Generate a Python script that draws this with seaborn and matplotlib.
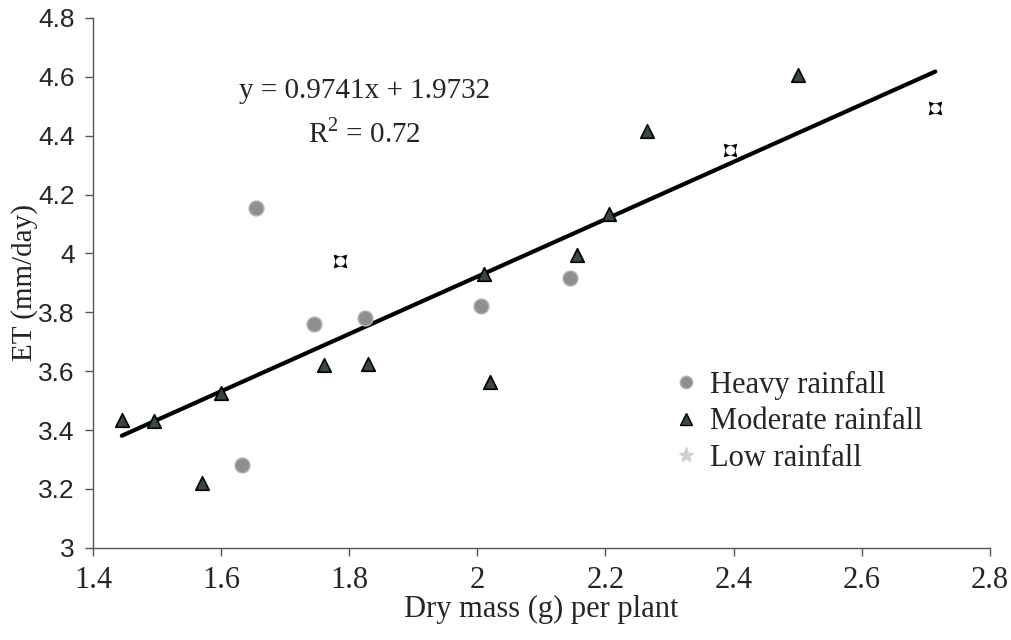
import numpy as np
import pandas as pd
import matplotlib
matplotlib.use("Agg")
import matplotlib.pyplot as plt
import seaborn as sns
from matplotlib.lines import Line2D

heavy_x = [1.633, 1.655, 1.745, 1.825, 2.005, 2.145]
heavy_y = [3.28, 4.155, 3.76, 3.78, 3.82, 3.915]
moderate_x = [1.445, 1.495, 1.570, 1.600, 1.760, 1.830, 2.010, 2.020, 2.155, 2.205, 2.265, 2.500]
moderate_y = [3.435, 3.43, 3.22, 3.525, 3.62, 3.625, 3.93, 3.565, 3.995, 4.135, 4.415, 4.605]
low_x = [1.785, 2.395, 2.715]
low_y = [3.975, 4.35, 4.495]
slope, intercept, r2 = 0.9741, 1.9732, 0.72
x_ticks = [1.4, 1.6, 1.8, 2.0, 2.2, 2.4, 2.6, 2.8]
y_ticks = [3.0, 3.2, 3.4, 3.6, 3.8, 4.0, 4.2, 4.4, 4.6, 4.8]
tick_labels_x = ["1.4", "1.6", "1.8", "2", "2.2", "2.4", "2.6", "2.8"]
tick_labels_y = ["3", "3.2", "3.4", "3.6", "3.8", "4", "4.2", "4.4", "4.6", "4.8"]

df = pd.DataFrame({
    "x": heavy_x + moderate_x + low_x,
    "y": heavy_y + moderate_y + low_y,
    "group": ["Heavy rainfall"] * len(heavy_x) + ["Moderate rainfall"] * len(moderate_x)
             + ["Low rainfall"] * len(low_x),
})

sns.set_style("white")
SERIF = ["Liberation Serif", "DejaVu Serif"]
plt.rcParams["font.family"] = SERIF
plt.rcParams["mathtext.fontset"] = "custom"
plt.rcParams["mathtext.rm"] = "Liberation Serif"

FS = 22
fig = plt.figure(figsize=(10.11, 6.4), dpi=100)
ax = fig.add_axes([0.092, 0.144, 0.887, 0.828])

# regression line
xs = np.array([df["x"].min(), df["x"].max()])
line_df = pd.DataFrame({"x": xs, "y": slope * xs + intercept})
sns.lineplot(data=line_df, x="x", y="y", ax=ax, color="black", linewidth=3, zorder=2)

sns.scatterplot(data=df[df.group == "Heavy rainfall"], x="x", y="y", ax=ax,
                marker="o", s=115, color="#8f8f8f", edgecolor="#b5b5b5", linewidth=1, zorder=3)
sns.scatterplot(data=df[df.group == "Moderate rainfall"], x="x", y="y", ax=ax,
                marker="^", s=95, color="#3a4745", edgecolor="black", linewidth=1.2, zorder=4)
sns.scatterplot(data=df[df.group == "Low rainfall"], x="x", y="y", ax=ax,
                marker=(4, 1, 45), s=170, color="black", edgecolor="black", linewidth=0.5, zorder=4)
sns.scatterplot(data=df[df.group == "Low rainfall"], x="x", y="y", ax=ax,
                marker="o", s=45, color="white", edgecolor="white", linewidth=0, zorder=5)

ax.set_xlim(1.4, 2.8)
ax.set_ylim(3.0, 4.8)
ax.set_xticks(x_ticks)
ax.set_xticklabels(tick_labels_x)
ax.set_yticks(y_ticks)
ax.set_yticklabels(tick_labels_y)
ax.tick_params(axis="both", direction="out", length=6, width=1, color="#555555",
               pad=7, bottom=True, left=True)
ax.tick_params(axis="x", labelsize=FS, labelfontfamily="Liberation Serif")
ax.tick_params(axis="y", labelsize=19, labelfontfamily="Liberation Sans")
for side in ["top", "right"]:
    ax.spines[side].set_visible(False)
for side in ["left", "bottom"]:
    ax.spines[side].set_color("#555555")
    ax.spines[side].set_linewidth(1)
ax.set_xlabel("Dry mass (g) per plant", fontsize=FS, labelpad=0, family=SERIF)
ax.set_ylabel("ET (mm/day)", fontsize=21, family=SERIF)
ax.yaxis.set_label_coords(-0.061, 0.5)

ax.text(0.303, 0.862, f"y = {slope}x + {intercept}", transform=ax.transAxes,
        fontsize=21, ha="center", va="center", family=SERIF)
ax.text(0.303, 0.783, r"R$^{2}$ = " + f"{r2}", transform=ax.transAxes,
        fontsize=21, ha="center", va="center", family=SERIF)

handles = [
    Line2D([], [], marker="o", linestyle="", markersize=9, markerfacecolor="#8f8f8f",
           markeredgecolor="#b5b5b5"),
    Line2D([], [], marker="^", linestyle="", markersize=9, markerfacecolor="#3a4745",
           markeredgecolor="black"),
    Line2D([], [], marker="*", linestyle="", markersize=11, markerfacecolor="#d0d0d0",
           markeredgecolor="#d0d0d0"),
]
ax.legend(handles, ["Heavy rainfall", "Moderate rainfall", "Low rainfall"],
          loc="upper left", bbox_to_anchor=(0.61, 0.386), frameon=False,
          prop={"family": SERIF, "size": FS},
          handletextpad=0.2, labelspacing=0.25, handlelength=1.2)

fig.savefig("out.png", dpi=100)
